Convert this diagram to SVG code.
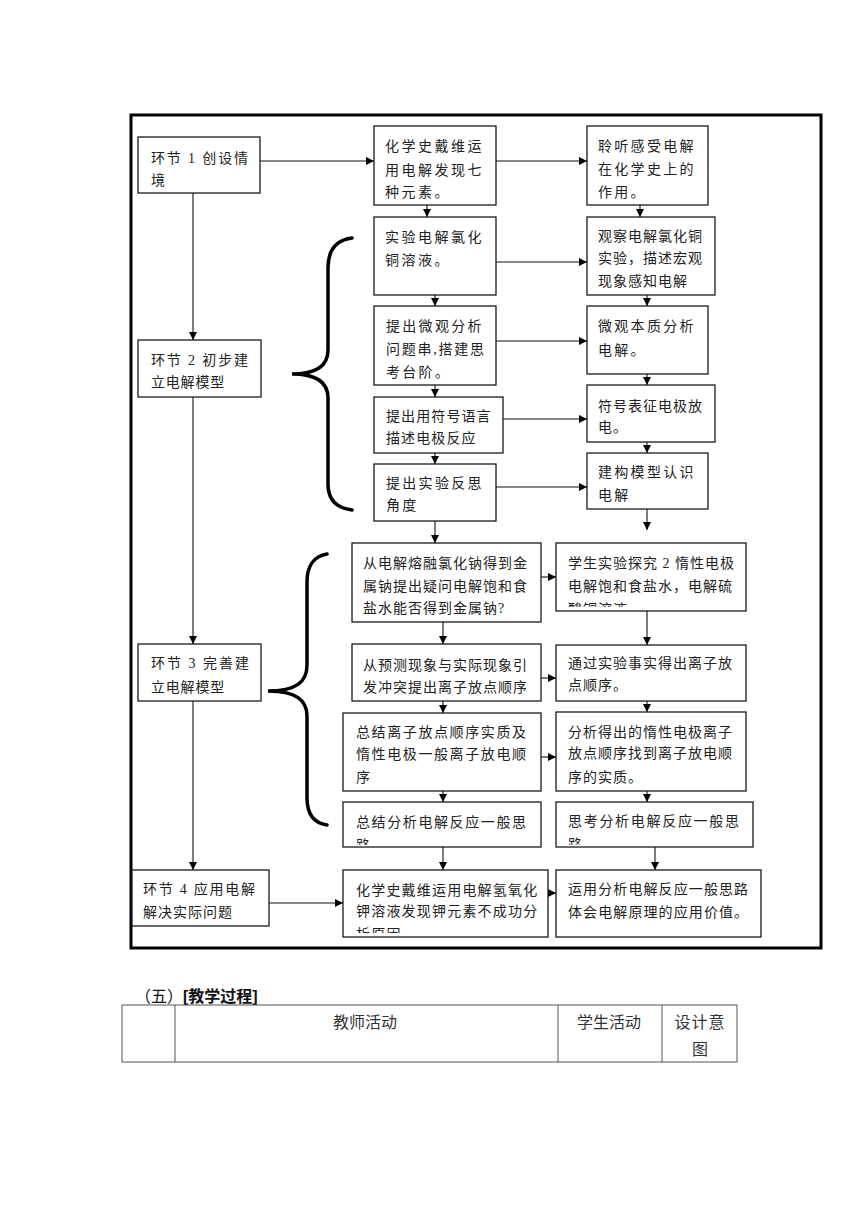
<svg xmlns="http://www.w3.org/2000/svg" width="860" height="1216" viewBox="0 0 860 1216">
<style>
.bg{fill:#fff}
.box{fill:#fff;stroke:#1a1a1a;stroke-width:1.3}
.frame{fill:none;stroke:#000;stroke-width:3}
.t{font-family:"Liberation Serif","Noto Sans CJK SC",serif;font-size:14px;fill:#222}
.c{stroke:#111;stroke-width:1.1;fill:none}
.brace{fill:none;stroke:#000;stroke-width:3.5;stroke-linecap:round}
.h{font-family:"Liberation Sans","Noto Sans CJK SC",sans-serif;font-size:16px;fill:#111}
.tb{font-family:"Liberation Serif","Noto Sans CJK SC",serif;font-size:16px;fill:#333}
.tl{stroke:#555;stroke-width:1;fill:none}
</style>
<defs>
<marker id="ah" viewBox="0 0 10 10" refX="10" refY="5" markerWidth="8" markerHeight="8" markerUnits="userSpaceOnUse" orient="auto">
<path d="M0,0 L10,5 L0,10 z" fill="#000"/>
</marker>
<clipPath id="cD1"><rect x="556" y="543" width="190" height="64"/></clipPath>
<clipPath id="cC4"><rect x="343" y="802" width="198" height="43"/></clipPath>
<clipPath id="cD4"><rect x="556" y="802" width="197" height="43"/></clipPath>
<clipPath id="cC5"><rect x="343" y="870" width="205" height="63"/></clipPath>
</defs>
<rect class="bg" x="0" y="0" width="860" height="1216"/>
<rect class="frame" x="131" y="115" width="690" height="833"/>

<g id="connectors">
<path class="c" marker-end="url(#ah)" d="M260,161 H374"/>
<path class="c" marker-end="url(#ah)" d="M496,161 H587"/>
<path class="c" marker-end="url(#ah)" d="M427,205 V217"/>
<path class="c" marker-end="url(#ah)" d="M640,205 V217"/>
<path class="c" marker-end="url(#ah)" d="M496,262 H587"/>
<path class="c" marker-end="url(#ah)" d="M435,295 V306"/>
<path class="c" marker-end="url(#ah)" d="M647,295 V306"/>
<path class="c" marker-end="url(#ah)" d="M496,341 H587"/>
<path class="c" marker-end="url(#ah)" d="M435,385 V397"/>
<path class="c" marker-end="url(#ah)" d="M647,374 V385"/>
<path class="c" marker-end="url(#ah)" d="M503,419 H587"/>
<path class="c" marker-end="url(#ah)" d="M435,453 V464"/>
<path class="c" marker-end="url(#ah)" d="M647,442 V453"/>
<path class="c" marker-end="url(#ah)" d="M496,487 H587"/>
<path class="c" marker-end="url(#ah)" d="M647,509 V530"/>
<path class="c" marker-end="url(#ah)" d="M435,521 V543"/>
<path class="c" marker-end="url(#ah)" d="M193,193 V340"/>
<path class="c" marker-end="url(#ah)" d="M193,397 V644"/>
<path class="c" marker-end="url(#ah)" d="M193,701 V870"/>
<path class="c" marker-end="url(#ah)" d="M541,577 H556"/>
<path class="c" marker-end="url(#ah)" d="M443,622 V644"/>
<path class="c" marker-end="url(#ah)" d="M647,611 V645"/>
<path class="c" marker-end="url(#ah)" d="M541,678 H556"/>
<path class="c" marker-end="url(#ah)" d="M443,701 V713"/>
<path class="c" marker-end="url(#ah)" d="M647,701 V712"/>
<path class="c" marker-end="url(#ah)" d="M541,757 H556"/>
<path class="c" marker-end="url(#ah)" d="M443,791 V802"/>
<path class="c" marker-end="url(#ah)" d="M647,791 V802"/>
<path class="c" marker-end="url(#ah)" d="M443,847 V870"/>
<path class="c" marker-end="url(#ah)" d="M655,847 V870"/>
<path class="c" marker-end="url(#ah)" d="M269,903 H343"/>
<path class="c" marker-end="url(#ah)" d="M548,893 H556"/>
</g>

<g id="braces">
<path class="brace" d="M352,238 C336,240 328,250 328,268 L328,350 C328,366 316,374 292,374 C316,374 328,382 328,398 L328,484 C328,500 336,508 352,510"/>
<path class="brace" d="M327,554 C314,556 307,566 307,582 L307,665 C307,682 296,691 268,691 C296,691 307,700 307,716 L307,798 C307,814 314,823 327,825"/>
</g>

<g id="n-step1">
<rect class="box" x="138" y="137" width="122" height="56"/>
<text class="t" x="151" y="163" textLength="97" lengthAdjust="spacing">环节 1 创设情</text>
<text class="t" x="151" y="185">境</text>
</g>
<g id="n-a1" letter-spacing="2.5">
<rect class="box" x="374" y="126" width="122" height="79"/>
<text class="t" x="385" y="151">化学史戴维运</text>
<text class="t" x="385" y="175">用电解发现七</text>
<text class="t" x="385" y="197">种元素。</text>
</g>
<g id="n-b1" letter-spacing="2.3">
<rect class="box" x="587" y="126" width="121" height="79"/>
<text class="t" x="598" y="151">聆听感受电解</text>
<text class="t" x="598" y="174">在化学史上的</text>
<text class="t" x="598" y="197">作用。</text>
</g>
<g id="n-a2" letter-spacing="2.5">
<rect class="box" x="374" y="217" width="122" height="78"/>
<text class="t" x="385" y="242">实验电解氯化</text>
<text class="t" x="385" y="265">铜溶液。</text>
</g>
<g id="n-b2" letter-spacing="1">
<rect class="box" x="587" y="217" width="128" height="78"/>
<text class="t" x="598" y="241">观察电解氯化铜</text>
<text class="t" x="598" y="263">实验，描述宏观</text>
<text class="t" x="598" y="286">现象感知电解</text>
</g>
<g id="n-a3" letter-spacing="2.3">
<rect class="box" x="374" y="306" width="122" height="79"/>
<text class="t" x="386" y="331">提出微观分析</text>
<text class="t" x="386" y="354" letter-spacing="0" textLength="98" lengthAdjust="spacing">问题串,搭建思</text>
<text class="t" x="386" y="377">考台阶。</text>
</g>
<g id="n-b3" letter-spacing="2.3">
<rect class="box" x="587" y="306" width="121" height="68"/>
<text class="t" x="598" y="331">微观本质分析</text>
<text class="t" x="598" y="355">电解。</text>
</g>
<g id="n-a4" letter-spacing="1.1">
<rect class="box" x="374" y="397" width="129" height="56"/>
<text class="t" x="386" y="421">提出用符号语言</text>
<text class="t" x="386" y="443">描述电极反应</text>
</g>
<g id="n-b4" letter-spacing="1">
<rect class="box" x="587" y="385" width="128" height="57"/>
<text class="t" x="598" y="411">符号表征电极放</text>
<text class="t" x="598" y="432">电。</text>
</g>
<g id="n-a5" letter-spacing="2.3">
<rect class="box" x="374" y="464" width="122" height="57"/>
<text class="t" x="386" y="488">提出实验反思</text>
<text class="t" x="386" y="510">角度</text>
</g>
<g id="n-b5" letter-spacing="2.3">
<rect class="box" x="587" y="453" width="121" height="56"/>
<text class="t" x="598" y="477">建构模型认识</text>
<text class="t" x="598" y="500">电解</text>
</g>
<g id="n-step2">
<rect class="box" x="138" y="340" width="123" height="57"/>
<text class="t" x="151" y="365" textLength="97" lengthAdjust="spacing">环节 2 初步建</text>
<text class="t" x="151" y="387" letter-spacing="0.8">立电解模型</text>
</g>
<g id="n-c1" letter-spacing="1">
<rect class="box" x="352" y="543" width="189" height="79"/>
<text class="t" x="363" y="568">从电解熔融氯化钠得到金</text>
<text class="t" x="363" y="591">属钠提出疑问电解饱和食</text>
<text class="t" x="363" y="613">盐水能否得到金属钠?</text>
</g>
<g id="n-d1" letter-spacing="1">
<rect class="box" x="556" y="543" width="190" height="68"/>
<text class="t" x="568" y="568" letter-spacing="0" textLength="166" lengthAdjust="spacing">学生实验探究 2 惰性电极</text>
<text class="t" x="568" y="591">电解饱和食盐水，电解硫</text>
<text class="t" x="568" y="614" clip-path="url(#cD1)">酸铜溶液</text>
</g>
<g id="n-c2" letter-spacing="1">
<rect class="box" x="352" y="644" width="189" height="57"/>
<text class="t" x="363" y="670">从预测现象与实际现象引</text>
<text class="t" x="363" y="692">发冲突提出离子放点顺序</text>
</g>
<g id="n-d2" letter-spacing="1">
<rect class="box" x="556" y="645" width="190" height="56"/>
<text class="t" x="568" y="668">通过实验事实得出离子放</text>
<text class="t" x="568" y="690">点顺序。</text>
</g>
<g id="n-step3">
<rect class="box" x="138" y="644" width="123" height="57"/>
<text class="t" x="151" y="668" textLength="98" lengthAdjust="spacing">环节 3 完善建</text>
<text class="t" x="151" y="692" letter-spacing="0.8">立电解模型</text>
</g>
<g id="n-c3" letter-spacing="1.6">
<rect class="box" x="343" y="713" width="198" height="78"/>
<text class="t" x="356" y="737">总结离子放点顺序实质及</text>
<text class="t" x="356" y="759">惰性电极一般离子放电顺</text>
<text class="t" x="356" y="782">序</text>
</g>
<g id="n-d3" letter-spacing="1">
<rect class="box" x="556" y="712" width="190" height="79"/>
<text class="t" x="568" y="737">分析得出的惰性电极离子</text>
<text class="t" x="568" y="758">放点顺序找到离子放电顺</text>
<text class="t" x="568" y="782">序的实质。</text>
</g>
<g id="n-c4" letter-spacing="1.6">
<rect class="box" x="343" y="802" width="198" height="45"/>
<text class="t" x="356" y="827">总结分析电解反应一般思</text>
<text class="t" x="356" y="850" clip-path="url(#cC4)">路</text>
</g>
<g id="n-d4" letter-spacing="1.7">
<rect class="box" x="556" y="802" width="197" height="45"/>
<text class="t" x="568" y="826">思考分析电解反应一般思</text>
<text class="t" x="568" y="849" clip-path="url(#cD4)">路</text>
</g>
<g id="n-step4">
<rect class="box" x="132" y="870" width="137" height="56"/>
<text class="t" x="143" y="894" textLength="112" lengthAdjust="spacing">环节 4 应用电解</text>
<text class="t" x="143" y="917" letter-spacing="1">解决实际问题</text>
</g>
<g id="n-c5" letter-spacing="1.2">
<rect class="box" x="343" y="870" width="205" height="67"/>
<text class="t" x="356" y="895">化学史戴维运用电解氢氧化</text>
<text class="t" x="356" y="916">钾溶液发现钾元素不成功分</text>
<text class="t" x="356" y="939" clip-path="url(#cC5)">析原因</text>
</g>
<g id="n-d5" letter-spacing="1.1">
<rect class="box" x="556" y="870" width="205" height="67"/>
<text class="t" x="568" y="894">运用分析电解反应一般思路</text>
<text class="t" x="568" y="917">体会电解原理的应用价值。</text>
</g>

<g id="section-title">
<text class="h" x="135" y="1002">（五）<tspan font-weight="bold">[教学过程]</tspan></text>
</g>
<g id="table">
<rect class="tl" x="122" y="1005" width="615" height="57"/>
<path class="tl" d="M175,1005 V1062 M558,1005 V1062 M662,1005 V1062"/>
<text class="tb" x="365" y="1028" text-anchor="middle">教师活动</text>
<text class="tb" x="609" y="1028" text-anchor="middle">学生活动</text>
<text class="tb" x="700" y="1028" text-anchor="middle" letter-spacing="1">设计意</text>
<text class="tb" x="700" y="1055" text-anchor="middle">图</text>
</g>
</svg>
